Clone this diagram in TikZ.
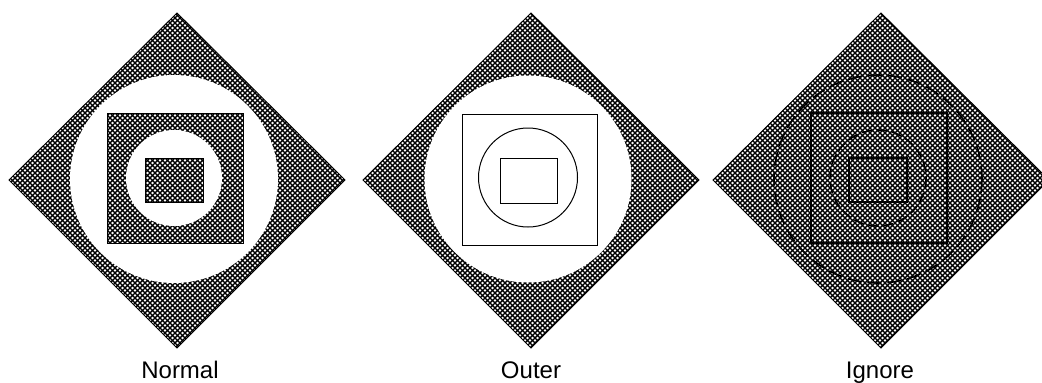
\documentclass[tikz,border=0pt]{standalone}
\usepackage{fontspec}
\setmainfont{Liberation Sans}
\usetikzlibrary{patterns}
\pgfdeclarepatternformonly{dither}{\pgfpoint{-1pt}{-1pt}}{\pgfpoint{6pt}{6pt}}{\pgfpoint{5pt}{5pt}}{%
  \pgfsetlinewidth{1.25pt}%
  \pgfpathmoveto{\pgfpoint{-1pt}{-1pt}}\pgfpathlineto{\pgfpoint{6pt}{6pt}}%
  \pgfpathmoveto{\pgfpoint{-1pt}{6pt}}\pgfpathlineto{\pgfpoint{6pt}{-1pt}}%
  \pgfusepath{stroke}}
\tikzset{
  hatch/.style={pattern=dither, pattern color=black},
  edge/.style={draw=black, line width=1pt},
  thickedge/.style={draw=black, line width=1.6pt},
  lbl/.style={font=\fontsize{24}{26}\selectfont, inner sep=0pt, anchor=base},
}
\begin{document}
\begin{tikzpicture}[x=1pt,y=-1pt]
\useasboundingbox (0,0) rectangle (1042,383);
\fill[white] (0,0) rectangle (1042,383);

% ---------- Normal ----------
\begin{scope}
  \fill[white] (177,13) -- (345,180) -- (177,348) -- (9,180) -- cycle;
  \path[hatch] (177,13) -- (345,180) -- (177,348) -- (9,180) -- cycle;
  \draw[edge] (177,13) -- (345,180) -- (177,348) -- (9,180) -- cycle;
  \fill[white] (174,179) circle[radius=104];
  \path[hatch] (107,113) rectangle (243,243);
  \draw[edge] (107,113) rectangle (243,243);
  \fill[white] (174,178) circle[radius=48];
  \path[hatch] (145,158) rectangle (203,202);
  \draw[edge] (145,158) rectangle (203,202);
\end{scope}
\node[lbl] (normal) at (180,378) {Normal};

% ---------- Outer ----------
\begin{scope}[xshift=354pt]
  \fill[white] (177,13) -- (345,180) -- (177,348) -- (9,180) -- cycle;
  \path[hatch] (177,13) -- (345,180) -- (177,348) -- (9,180) -- cycle;
  \draw[edge] (177,13) -- (345,180) -- (177,348) -- (9,180) -- cycle;
  \fill[white] (174,179) circle[radius=103.5];
  \draw[edge] (108,114) rectangle (243,245);
  \draw[edge] (174,177.5) circle[radius=49.5];
  \draw[edge] (146,158) rectangle (203,203);
\end{scope}
\node[lbl] (outer) at (531,378) {Outer};

% ---------- Ignore ----------
\begin{scope}[xshift=704pt]
  \fill[white] (177,13) -- (345,180) -- (177,348) -- (9,180) -- cycle;
  \path[hatch] (177,13) -- (345,180) -- (177,348) -- (9,180) -- cycle;
  \draw[edge] (177,13) -- (345,180) -- (177,348) -- (9,180) -- cycle;
  \draw[thickedge, dash pattern=on 14pt off 6pt] (174,179) circle[radius=104];
  \draw[thickedge] (107,113) rectangle (243,243);
  \draw[thickedge, dash pattern=on 10pt off 5pt] (174,178) circle[radius=48];
  \draw[thickedge] (145,158) rectangle (203,202);
\end{scope}
\node[lbl] (ignore) at (880,378) {Ignore};
\end{tikzpicture}
\end{document}
